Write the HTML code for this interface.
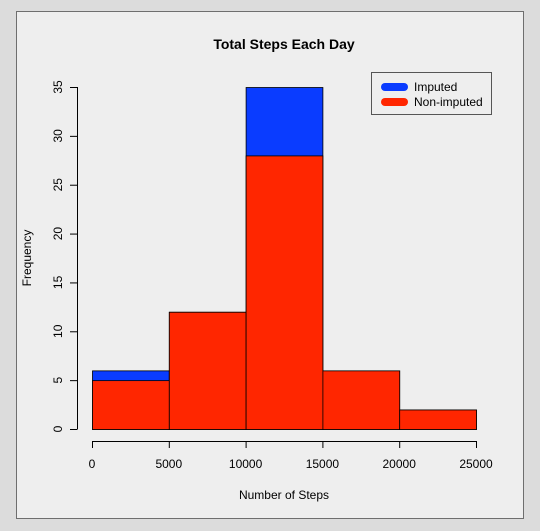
<!DOCTYPE html>
<html><head><style>
body{margin:0;background:#dcdcdc;}
svg{display:block;font-family:"Liberation Sans",sans-serif;}
</style></head><body>
<svg width="540" height="531">
<rect x="16.5" y="11.5" width="507" height="507" fill="#eeeeee" stroke="#6e6e6e"/>
<text x="284" y="49" text-anchor="middle" font-size="14" font-weight="bold">Total Steps Each Day</text>
<text x="284" y="499" text-anchor="middle" font-size="12">Number of Steps</text>
<text transform="translate(31,258) rotate(-90)" text-anchor="middle" font-size="12">Frequency</text>
<g id="bars"></g>
<g id="axes"></g>
<g>
<rect x="371.5" y="72.5" width="120" height="42" fill="#eeeeee" stroke="#555"/>
<line x1="385" y1="87" x2="404" y2="87" stroke="#0a3cff" stroke-width="8" stroke-linecap="round"/>
<text x="414" y="91" font-size="12">Imputed</text>
<line x1="385" y1="102" x2="404" y2="102" stroke="#ff2600" stroke-width="8" stroke-linecap="round"/>
<text x="414" y="106" font-size="12">Non-imputed</text>
</g>
</svg>
<script>
const binStarts=[0,5000,10000,15000,20000];
const imputedCounts=[6,12,35,6,2];
const nonImputedCounts=[5,12,28,6,2];
const xTicks=[0,5000,10000,15000,20000,25000];
const yTicks=[0,5,10,15,20,25,30,35];
const binWidth=5000;
const NS="http://www.w3.org/2000/svg";
const xs=v=>92+v*(476-92)/25000;
const ys=v=>429-v*(429-87)/35;
const bars=document.getElementById('bars');
function drawBars(arr,color,name){
 arr.forEach((c,i)=>{
  const r=document.createElementNS(NS,'rect');
  const x0=xs(binStarts[i]),x1=xs(binStarts[i]+binWidth);
  r.setAttribute('x',x0+0.5);r.setAttribute('y',ys(c)+0.5);
  r.setAttribute('width',x1-x0);r.setAttribute('height',ys(0)-ys(c));
  r.setAttribute('fill',color);r.setAttribute('stroke','#000');r.setAttribute('stroke-width','0.8');
  
  
  bars.appendChild(r);
 });
}
drawBars(imputedCounts,'#0a3cff','imputed');
drawBars(nonImputedCounts,'#ff2600','nonimputed');
const ax=document.getElementById('axes');
function line(x1,y1,x2,y2){const l=document.createElementNS(NS,'line');l.setAttribute('x1',x1);l.setAttribute('y1',y1);l.setAttribute('x2',x2);l.setAttribute('y2',y2);l.setAttribute('stroke','#000');ax.appendChild(l);return l;}
function text(x,y,s,rot){const t=document.createElementNS(NS,'text');t.textContent=s;t.setAttribute('font-size','12');t.setAttribute('text-anchor','middle');
 if(rot)t.setAttribute('transform',`translate(${x},${y}) rotate(-90)`);else{t.setAttribute('x',x);t.setAttribute('y',y);}ax.appendChild(t);return t;}
const xa=line(xs(0),441.5,xs(25000),441.5);


xTicks.forEach(v=>{line(xs(v)+0.5,441,xs(v)+0.5,448);
 const t=text(xs(v),468,String(v));
 
 });
const ya=line(77.5,ys(0),77.5,ys(35));


yTicks.forEach(v=>{line(70,ys(v)+0.5,77.5,ys(v)+0.5);
 const t=text(62,ys(v),String(v),true);
 
 });
</script>
</body></html>
